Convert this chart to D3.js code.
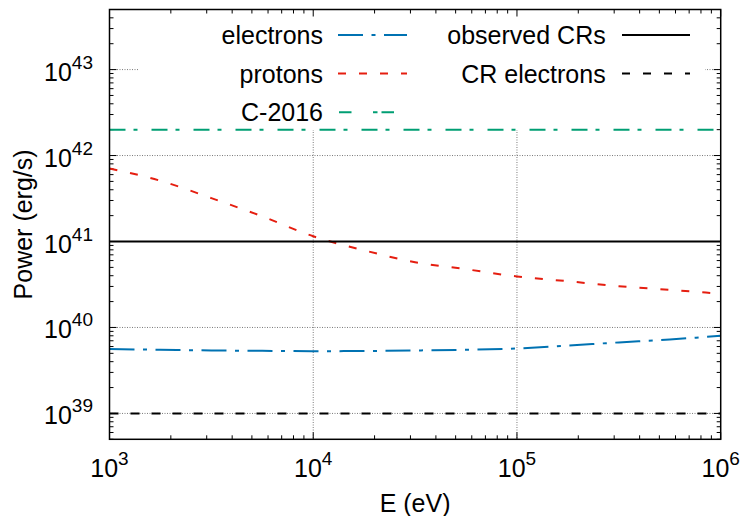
<!DOCTYPE html>
<html>
<head>
<meta charset="utf-8">
<script src="https://cdn.jsdelivr.net/npm/d3@7"></script>
<style>
  html, body { margin: 0; padding: 0; background: #fff; }
  svg { display: block; font-family: "Liberation Sans", Arial, Helvetica, sans-serif; }
</style>
</head>
<body>
<svg id="chart" width="742" height="516"></svg>
<script>
// ---- data ----
const energies  = [1e3, 1.778e3, 3.162e3, 5.623e3, 1e4, 1.778e4, 3.162e4, 5.623e4, 1e5, 1.778e5, 3.162e5, 5.623e5, 1e6];
const electrons = [5.6e39, 5.5e39, 5.4e39, 5.35e39, 5.3e39, 5.32e39, 5.4e39, 5.5e39, 5.7e39, 6.17e39, 6.7e39, 7.25e39, 8.0e39];
const protons   = [7.06e41, 5.09e41, 3.2e41, 1.96e41, 1.15e41, 7.89e40, 5.75e40, 4.76e40, 3.92e40, 3.45e40, 3.02e40, 2.74e40, 2.47e40];
const c2016Level = 2e42;
const observedCRsLevel = 1e41;
const crElectronsLevel = 1e39;
const xTickExps = [3, 4, 5, 6];
const yTickExps = [39, 40, 41, 42, 43];
const xDomain = [1e3, 1e6];
const yDomain = [5e38, 5e43];
const legendNames = ["electrons", "protons", "C-2016", "observed CRs", "CR electrons"];

// ---- layout ----
const svg = d3.select("#chart");
const W = 742, H = 516;
const m = {left: 109.5, right: 21.3, top: 9.5, bottom: 76.7};
const pw = W - m.left - m.right, ph = H - m.top - m.bottom;
const FONT = 25, SUP = 19;

const x = d3.scaleLog().domain(xDomain).range([m.left, m.left + pw]);
const y = d3.scaleLog().domain(yDomain).range([m.top + ph, m.top]);

svg.append("defs").append("clipPath").attr("id", "clip")
  .append("rect").attr("x", m.left).attr("y", m.top).attr("width", pw).attr("height", ph);

// grid
const grid = svg.append("g").attr("stroke", "#7a7a7a").attr("stroke-width", 1).attr("stroke-dasharray", "1,1.5");
grid.selectAll("line.gx").data(xTickExps.slice(1, -1)).join("line")
  .attr("x1", d => x(Math.pow(10, d))).attr("x2", d => x(Math.pow(10, d)))
  .attr("y1", m.top).attr("y2", m.top + ph);
grid.selectAll("line.gy").data(yTickExps).join("line")
  .attr("x1", m.left).attr("x2", m.left + pw)
  .attr("y1", d => y(Math.pow(10, d))).attr("y2", d => y(Math.pow(10, d)));

// opaque key background
svg.append("rect").attr("x", 139).attr("y", m.top + 1).attr("width", 705 - 139).attr("height", 130 - m.top - 1)
  .attr("fill", "#fff");

// ticks (major + minor), inward on all sides
function minorVals(domain) {
  const out = [];
  const lo = Math.floor(Math.log10(domain[0])), hi = Math.ceil(Math.log10(domain[1]));
  for (let e = lo; e <= hi; e++) for (let k = 1; k <= 9; k++) {
    const v = k * Math.pow(10, e);
    if (v >= domain[0] * 0.9999 && v <= domain[1] * 1.0001) out.push({v, major: k === 1});
  }
  return out;
}
const ticks = svg.append("g").attr("stroke", "#000").attr("stroke-width", 1);
const MAJ = 7, MIN = 4;
minorVals(xDomain).forEach(t => {
  const len = t.major ? MAJ : MIN, px = x(t.v);
  ticks.append("line").attr("x1", px).attr("x2", px).attr("y1", m.top + ph).attr("y2", m.top + ph - len);
  ticks.append("line").attr("x1", px).attr("x2", px).attr("y1", m.top).attr("y2", m.top + len);
});
minorVals(yDomain).forEach(t => {
  const len = t.major ? MAJ : MIN, py = y(t.v);
  ticks.append("line").attr("x1", m.left).attr("x2", m.left + len).attr("y1", py).attr("y2", py);
  ticks.append("line").attr("x1", m.left + pw).attr("x2", m.left + pw - len).attr("y1", py).attr("y2", py);
});

// data lines
const plot = svg.append("g").attr("clip-path", "url(#clip)");
const line = d3.line().x(d => x(d[0])).y(d => y(d[1])).curve(d3.curveMonotoneX);
const series = [
  {name: legendNames[0], vals: electrons.map((v, i) => [energies[i], v]), color: "#0072b2", dash: "25,8.5,4,8.5", ldash: "25,8.5,4,8.5"},
  {name: legendNames[1], vals: protons.map((v, i) => [energies[i], v]), color: "#e51e10", dash: "8,13", ldash: "8,13"},
  {name: legendNames[2], vals: xDomain.map(e => [e, c2016Level]), color: "#009e73", dash: "16,8,4,14", ldash: "12.5,21.5,4.5,4"},
  {name: legendNames[3], vals: xDomain.map(e => [e, observedCRsLevel]), color: "#000000", dash: null, ldash: null},
  {name: legendNames[4], vals: xDomain.map(e => [e, crElectronsLevel]), color: "#000000", dash: "9,12", ldash: "8,13"}
];
series.forEach(s => {
  plot.append("path").datum(s.vals).attr("d", line)
    .attr("fill", "none").attr("stroke", s.color).attr("stroke-width", 2)
    .attr("stroke-dasharray", s.dash);
});

// border
svg.append("rect").attr("x", m.left).attr("y", m.top).attr("width", pw).attr("height", ph)
  .attr("fill", "none").attr("stroke", "#000").attr("stroke-width", 1.5);

// tick labels
function powLabel(sel, e) {
  sel.append("tspan").text("10");
  sel.append("tspan").attr("font-size", SUP).attr("dy", -12).text(String(e));
}
yTickExps.forEach(e => {
  const t = svg.append("text").attr("x", 93).attr("y", y(Math.pow(10, e)) + 11)
    .attr("text-anchor", "end").attr("font-size", FONT).attr("fill", "#000");
  powLabel(t, e);
});
xTickExps.forEach(e => {
  const t = svg.append("text").attr("x", x(Math.pow(10, e))).attr("y", 476.7)
    .attr("text-anchor", "middle").attr("font-size", FONT).attr("fill", "#000");
  powLabel(t, e);
});

// axis titles
svg.append("text").attr("x", m.left + pw / 2).attr("y", 512).attr("text-anchor", "middle")
  .attr("font-size", FONT).text("E (eV)");
svg.append("text").attr("transform", `translate(31.5,${m.top + ph / 2}) rotate(-90)`)
  .attr("text-anchor", "middle").attr("font-size", FONT).text("Power (erg/s)");

// legend
const legendPos = [
  {tx: 323, lx1: 338, lx2: 407, ly: 35},
  {tx: 323, lx1: 338, lx2: 407, ly: 73.6},
  {tx: 323, lx1: 339, lx2: 407, ly: 112.2},
  {tx: 605.7, lx1: 622, lx2: 690, ly: 35},
  {tx: 605.7, lx1: 622, lx2: 690, ly: 73.6}
];
const lg = svg.append("g");
series.forEach((s, i) => {
  const p = legendPos[i];
  lg.append("text").attr("x", p.tx).attr("y", p.ly + 9).attr("text-anchor", "end")
    .attr("font-size", FONT).text(s.name);
  lg.append("line").attr("x1", p.lx1).attr("x2", p.lx2).attr("y1", p.ly).attr("y2", p.ly)
    .attr("stroke", s.color).attr("stroke-width", 2).attr("stroke-dasharray", s.ldash);
});
</script>
</body>
</html>
